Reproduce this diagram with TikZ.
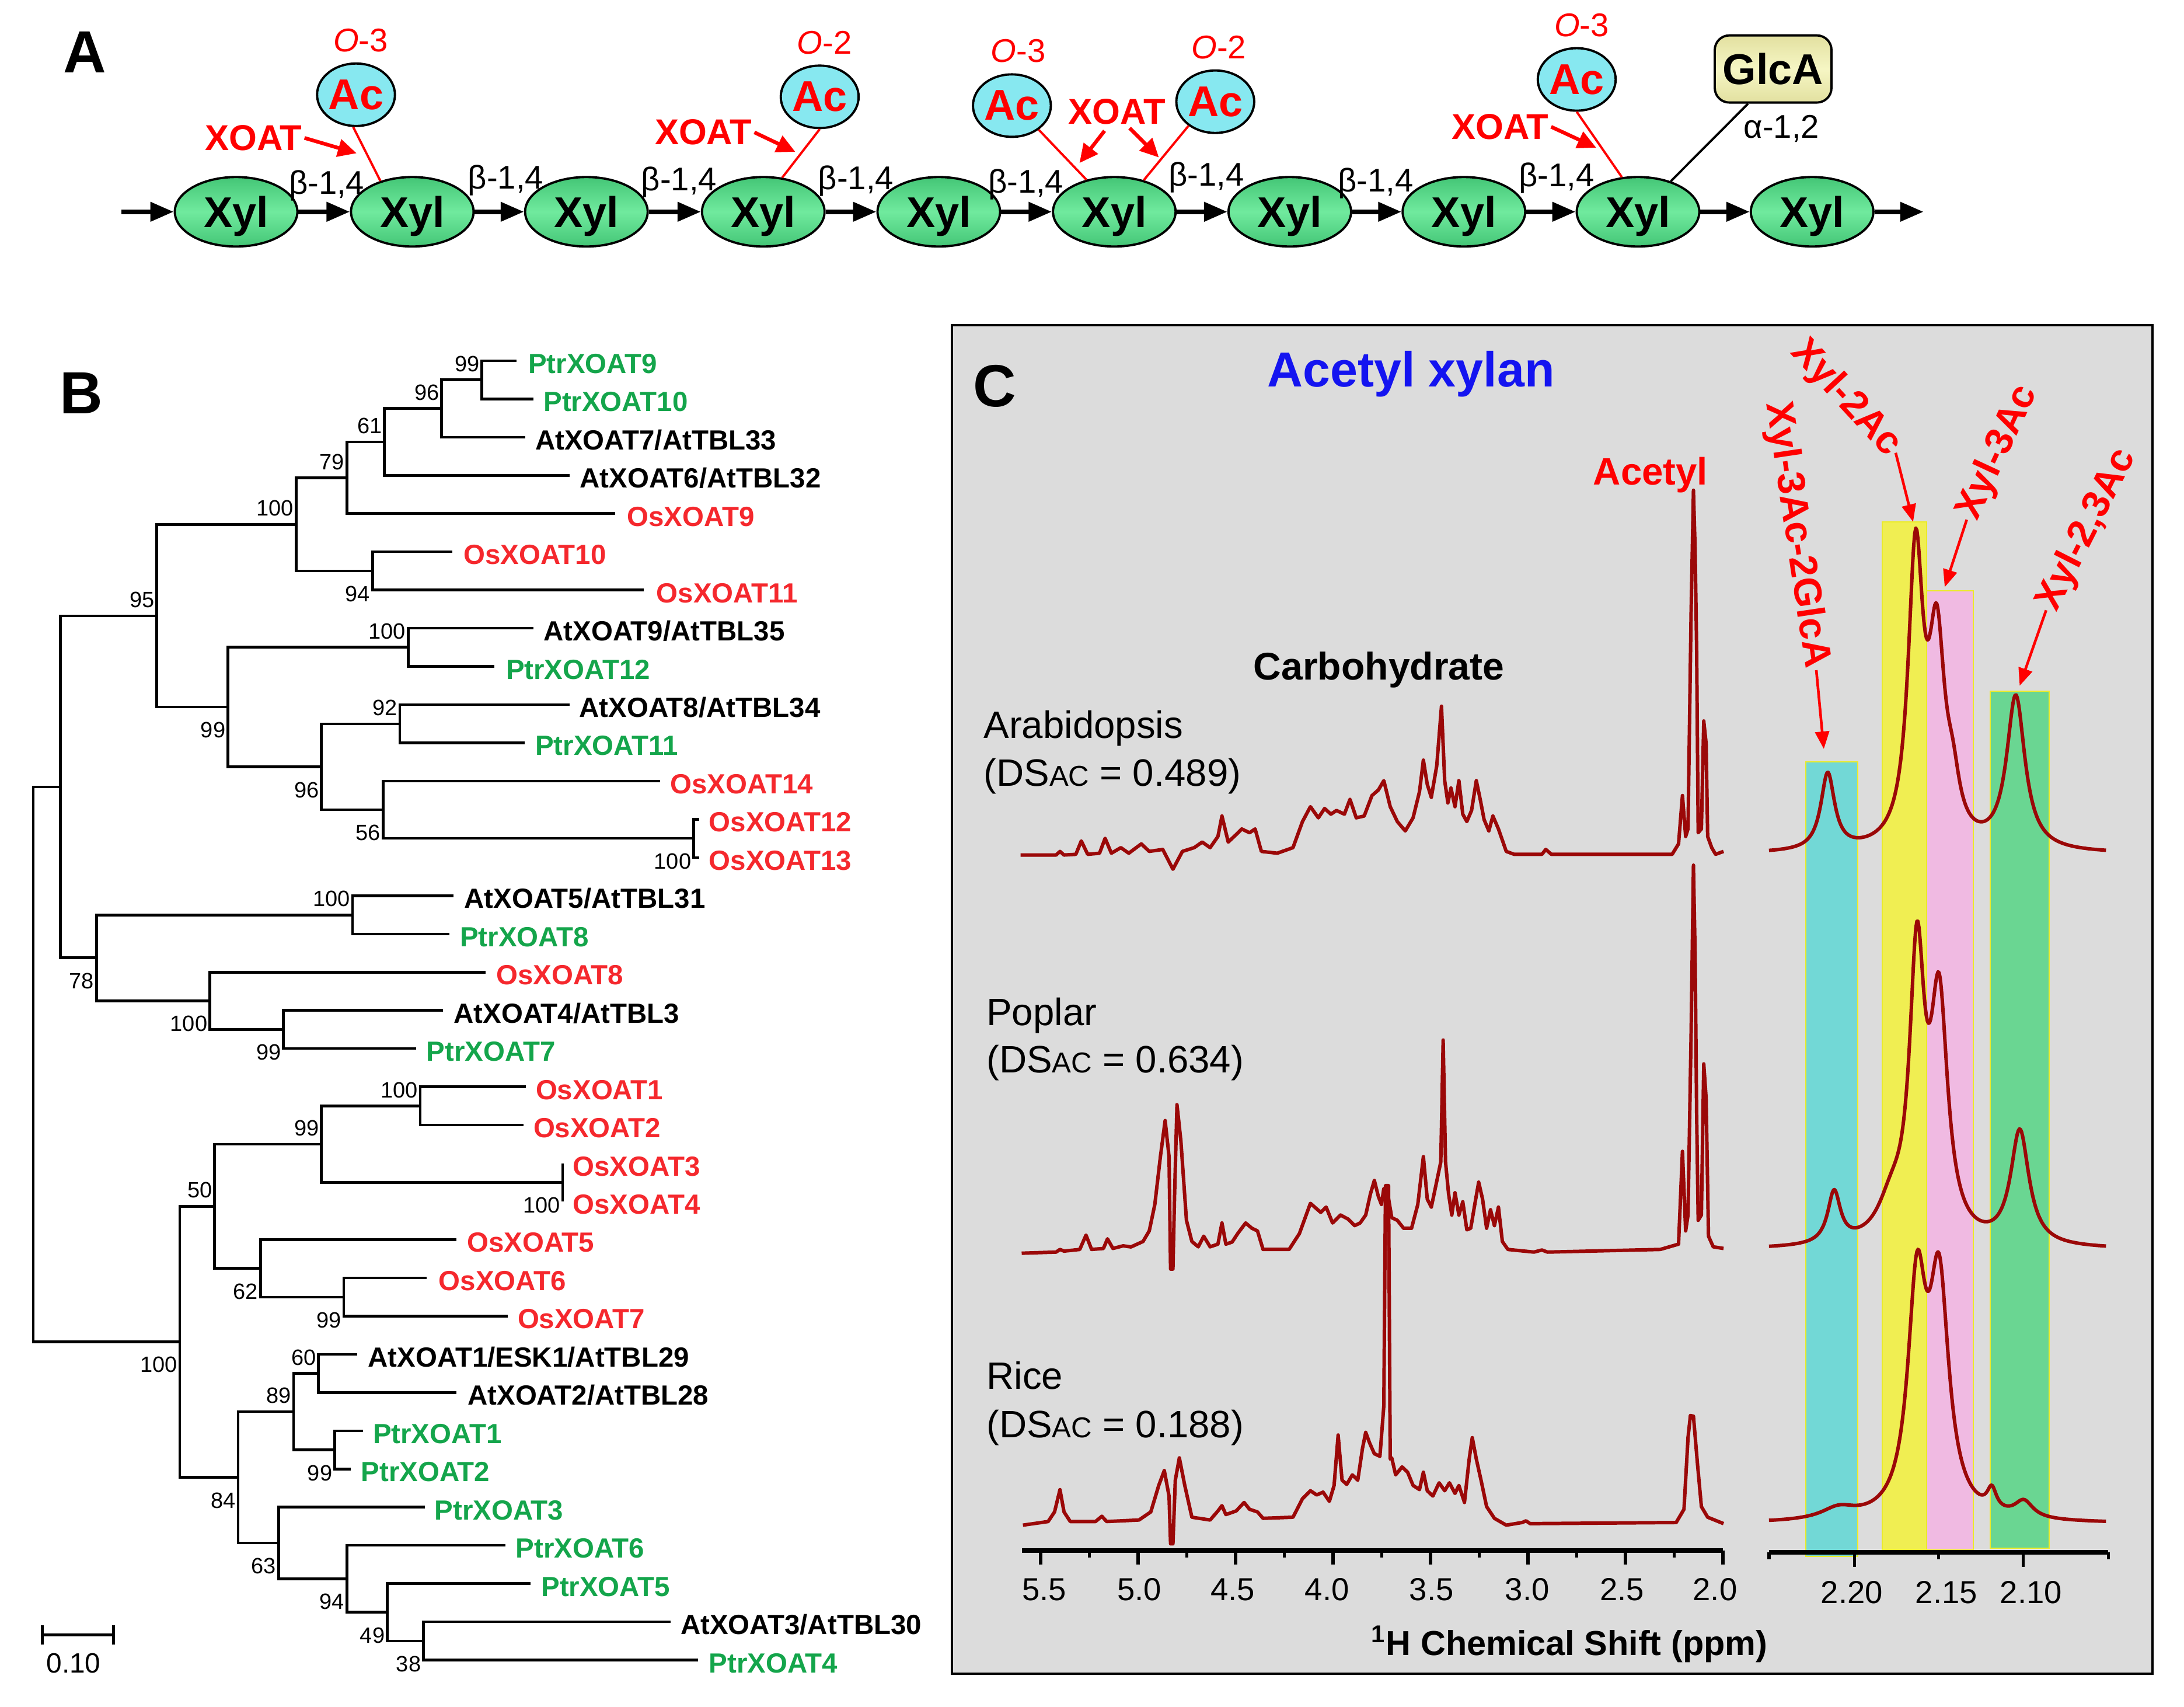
\documentclass[tikz,border=0pt]{standalone}
\usepackage{fontspec}
\setmainfont{Liberation Sans}
\usetikzlibrary{shapes.geometric,arrows.meta,calc}
\newcommand\fsz[1]{\fontsize{#1}{#1}\selectfont}
\newcommand\dsac[1]{(DS{\fsz{14}AC} = #1)}
\definecolor{xylD}{RGB}{68,198,118}
\definecolor{xylL}{RGB}{112,234,158}
\definecolor{acC}{RGB}{135,232,240}
\definecolor{glD}{RGB}{226,224,160}
\definecolor{glL}{RGB}{246,246,196}
\definecolor{redA}{RGB}{255,0,0}
\definecolor{treeR}{RGB}{245,40,45}
\definecolor{treeG}{RGB}{20,165,75}
\definecolor{blueT}{RGB}{20,20,240}
\definecolor{bgC}{RGB}{220,220,220}
\definecolor{specC}{RGB}{155,8,8}
\definecolor{bandCy}{RGB}{114,216,214}
\definecolor{bandYe}{RGB}{240,238,82}
\definecolor{bandPi}{RGB}{240,186,226}
\definecolor{bandGr}{RGB}{106,214,146}
\definecolor{bandEdge}{RGB}{235,235,40}
\begin{document}
\begin{tikzpicture}[x=0.023865cm,y=-0.023865cm,
  xyl/.style={ellipse, draw=black, line width=1.1pt, minimum width=21mm, minimum height=11.9mm, inner sep=0pt, text depth=0pt, top color=xylD, bottom color=xylD, middle color=xylL, font=\bfseries\fsz{21}},
  ac/.style={ellipse, draw=black, line width=1.1pt, minimum width=11.9mm, minimum height=10.7mm, inner sep=0pt, fill=acC, text=redA, font=\bfseries\fsz{21}},
  glca/.style={rectangle, rounded corners=2.5mm, draw=black, line width=1.1pt, minimum width=20mm, minimum height=11.5mm, top color=glD, bottom color=glD, middle color=glL, font=\bfseries\fsz{21}},
  betalab/.style={font=\fsz{16}, inner sep=0pt, anchor=base},
  olab/.style={font=\fsz{16}, text=redA, inner sep=0pt},
  xoat/.style={font=\bfseries\fsz{17.5}, text=redA, inner sep=1pt},
  chain/.style={line width=2.3pt, -{Triangle[length=4mm,width=3.2mm]}},
  redarr/.style={redA, line width=1.8pt, -{Triangle[length=3.2mm,width=3mm]}},
  acline/.style={redA, line width=1.1pt},
  blkline/.style={black, line width=1.1pt},
  panlab/.style={font=\bfseries\fsz{29}, inner sep=0pt},
  tree/.style={line width=1.3pt},
  leaf/.style={font=\bfseries\fsz{13.5}, inner sep=0pt, anchor=base west},
  bs/.style={font=\fsz{10.8}, inner sep=0pt, anchor=base east},
  spec/.style={specC, line width=1.7pt, line join=round},
  ann/.style={font=\bfseries\fsz{19}, text=redA, inner sep=1pt},
  annarr/.style={redA, line width=1.3pt, -{Triangle[length=3mm,width=2.4mm]}},
  axisl/.style={line width=2.2pt},
  tickl/.style={line width=1.5pt},
  ticklab/.style={font=\fsz{15.5}, inner sep=0pt, anchor=base},
  samp/.style={font=\fsz{18.6}, inner sep=0pt, anchor=base west}
]
\useasboundingbox (0,0) rectangle (1568,1225);
\fill[white] (0,0) rectangle (1568,1225);

% ================= Panel A =================
\node[panlab] (labA) at (61,37.4) {A};
\node[xyl] (x1) at (169.5,152) {Xyl};
\node[xyl] (x2) at (296,152) {Xyl};
\node[xyl] (x3) at (421,152) {Xyl};
\node[xyl] (x4) at (548,152) {Xyl};
\node[xyl] (x5) at (674,152) {Xyl};
\node[xyl] (x6) at (800,152) {Xyl};
\node[xyl] (x7) at (926,152) {Xyl};
\node[xyl] (x8) at (1051,152) {Xyl};
\node[xyl] (x9) at (1176,152) {Xyl};
\node[xyl] (x10) at (1301,152) {Xyl};
\coordinate (c0) at (87,152);
\coordinate (c11) at (1381,152);
\draw[chain] (c0) -- (x1);
\draw[chain] (x1) -- (x2);
\draw[chain] (x2) -- (x3);
\draw[chain] (x3) -- (x4);
\draw[chain] (x4) -- (x5);
\draw[chain] (x5) -- (x6);
\draw[chain] (x6) -- (x7);
\draw[chain] (x7) -- (x8);
\draw[chain] (x8) -- (x9);
\draw[chain] (x9) -- (x10);
\draw[chain] (x10) -- (c11);
\node[betalab] (be1) at (234.5,139.5) {β-1,4};
\node[betalab] (be2) at (363,135.5) {β-1,4};
\node[betalab] (be3) at (487.5,137) {β-1,4};
\node[betalab] (be4) at (614.5,136) {β-1,4};
\node[betalab] (be5) at (736.5,138.6) {β-1,4};
\node[betalab] (be6) at (866,133.3) {β-1,4};
\node[betalab] (be7) at (987.6,137.5) {β-1,4};
\node[betalab] (be8) at (1117.5,134) {β-1,4};

\node[ac] (ac1) at (255.6,68) {Ac};
\node[ac] (ac2) at (588.5,69.5) {Ac};
\node[ac] (ac3) at (726.5,75.8) {Ac};
\node[ac] (ac4) at (872.5,73) {Ac};
\node[ac] (ac5) at (1132,57) {Ac};
\node[olab] (o1) at (259,29) {\textit{O}-3};
\node[olab] (o2) at (592,30.7) {\textit{O}-2};
\node[olab] (o3) at (731,36.7) {\textit{O}-3};
\node[olab] (o4) at (875,33.9) {\textit{O}-2};
\node[olab] (o5) at (1135.5,18) {\textit{O}-3};
\draw[acline] (ac1.265) -- (x2.136);
\draw[acline] (ac2.south) -- (x4.61);
\draw[acline] (ac3.-42) -- (x6.131);
\draw[acline] (ac4.-138) -- (x6.47);
\draw[acline] (ac5.south) -- (x9.115);
\node[glca] (glca) at (1273,49.5) {GlcA};
\draw[blkline] ($(glca.south)+(-18,0)$) -- (x9.43);
\node[betalab] (alpha) at (1279,99) {α-1,2};

\node[xoat] (xo1) at (182,99) {XOAT};
\node[xoat] (xo2) at (505,95) {XOAT};
\node[xoat] (xo3) at (802,80) {XOAT};
\node[xoat] (xo4) at (1077,91) {XOAT};
\coordinate (h1) at (256,110);
\coordinate (h2) at (571,109);
\coordinate (h3a) at (775,117);
\coordinate (h3b) at (832,113);
\coordinate (h4) at (1146,106);
\draw[redarr] (xo1.east) -- (h1);
\draw[redarr] (xo2.east) -- (h2);
\draw[redarr] ($(xo3.south)+(-9,3)$) -- (h3a);
\draw[redarr] ($(xo3.south)+(9,1)$) -- (h3b);
\draw[redarr] (xo4.east) -- (h4);

% ================= Panel B =================
\node[panlab] (labB) at (58.5,282) {B};
\foreach \i/\tx/\lx/\col/\txt in {
 0/371/379/treeG/PtrXOAT9, 1/383/390/treeG/PtrXOAT10, 2/377/384/black/{AtXOAT7/AtTBL33},
 3/409/416/black/{AtXOAT6/AtTBL32}, 4/441.6/450/treeR/OsXOAT9, 5/324.7/332.5/treeR/OsXOAT10,
 6/462/471/treeR/OsXOAT11, 7/383/390/black/{AtXOAT9/AtTBL35}, 8/355/363/treeG/PtrXOAT12,
 9/409/415.6/black/{AtXOAT8/AtTBL34}, 10/376.6/384/treeG/PtrXOAT11, 11/474/481/treeR/OsXOAT14,
 12/502/508.7/treeR/OsXOAT12, 13/502/508.7/treeR/OsXOAT13, 14/325.5/333/black/{AtXOAT5/AtTBL31},
 15/322.5/330/treeG/PtrXOAT8, 16/348.5/356/treeR/OsXOAT8, 17/318/325.5/black/{AtXOAT4/AtTBL3},
 18/298.7/306/treeG/PtrXOAT7, 19/377.5/384.4/treeR/OsXOAT1, 20/375.7/382.7/treeR/OsXOAT2,
 21/404/411/treeR/OsXOAT3, 22/404/411/treeR/OsXOAT4, 23/327.7/335/treeR/OsXOAT5,
 24/306.5/314.7/treeR/OsXOAT6, 25/364.5/371.4/treeR/OsXOAT7, 26/256.3/264/black/{AtXOAT1/ESK1/AtTBL29},
 27/327.7/335.5/black/{AtXOAT2/AtTBL28}, 28/260.6/267.5/treeG/PtrXOAT1, 29/252/258.9/treeG/PtrXOAT2,
 30/305/311.7/treeG/PtrXOAT3, 31/362.8/370/treeG/PtrXOAT6, 32/381/388.3/treeG/PtrXOAT5,
 33/481.4/488.3/black/{AtXOAT3/AtTBL30}, 34/501.3/508.7/treeG/PtrXOAT4}{
  \pgfmathsetmacro\yy{258.9+27.43*\i}
  \coordinate (t\i) at (\tx,\yy);
  \node[leaf,text=\col] (l\i) at (\lx,\yy+9) {\txt};
}
\coordinate (a99) at (346,272.6);
\coordinate (a96) at (317,293.2);
\coordinate (a61) at (276,317.2);
\coordinate (a79) at (249,342.9);
\coordinate (a94) at (267.5,409.8);
\coordinate (a100) at (212.6,376.4);
\coordinate (b100) at (293,464.6);
\coordinate (b92) at (287,519.5);
\coordinate (b100c) at (498,601.8);
\coordinate (b56) at (275,581.2);
\coordinate (b96) at (230.7,550.4);
\coordinate (b99) at (163.6,507.5);
\coordinate (c95) at (112.6,442);
\coordinate (d100) at (253,656.7);
\coordinate (d99) at (203.5,738.9);
\coordinate (d100b) at (150.6,718.4);
\coordinate (d78) at (69.3,687.5);
\coordinate (e) at (43.3,564.8);
\coordinate (f100) at (301.7,793.8);
\coordinate (f100b) at (404,848.7);
\coordinate (f99) at (230.7,821.2);
\coordinate (f99b) at (246.8,931);
\coordinate (f62) at (187,910.4);
\coordinate (f50) at (154,865.8);
\coordinate (g60) at (228.6,985.8);
\coordinate (g99) at (240.3,1040.7);
\coordinate (g89) at (210.8,1013.2);
\coordinate (g38) at (304,1177.8);
\coordinate (g49) at (278,1157.2);
\coordinate (g94) at (249,1133.2);
\coordinate (g63) at (200,1107.5);
\coordinate (g84) at (171,1060.4);
\coordinate (f100c) at (129,963.1);
\coordinate (root) at (23.8,764);
\foreach \p/\c in {a99/t0,a99/t1,a96/a99,a96/t2,a61/a96,a61/t3,a79/a61,a79/t4,a94/t5,a94/t6,
 a100/a79,a100/a94,b100/t7,b100/t8,b92/t9,b92/t10,b100c/t12,b100c/t13,b56/t11,b56/b100c,
 b96/b92,b96/b56,b99/b100,b99/b96,c95/a100,c95/b99,d100/t14,d100/t15,d99/t17,d99/t18,
 d100b/t16,d100b/d99,d78/d100,d78/d100b,e/c95,e/d78,f100/t19,f100/t20,f100b/t21,f100b/t22,
 f99/f100,f99/f100b,f99b/t24,f99b/t25,f62/t23,f62/f99b,f50/f99,f50/f62,g60/t26,g60/t27,
 g99/t28,g99/t29,g89/g60,g89/g99,g38/t33,g38/t34,g49/t32,g49/g38,g94/t31,g94/g49,
 g63/t30,g63/g94,g84/g89,g84/g63,f100c/f50,f100c/g84,root/e,root/f100c}{
  \draw[tree] (\p) |- (\c);
}
% bootstrap values: above = upper child, below = lower child
\foreach \n/\v in {a99/99,a96/96,a61/61,a79/79,a100/100,b100/100,b92/92,c95/95,d100/100,
 f100/100,f99/99,f50/50,g60/60,g89/89}{
  \node[bs] (bs\n) at ($(\n)+(-1.5,-6)$) {\v};
}
\foreach \n/\v in {a94/94,b100c/100,b56/56,b96/96,b99/99,d99/99,d100b/100,d78/78,f100b/100,
 f99b/99,f62/62,g99/99,g38/38,g49/49,g94/94,g63/63,g84/84,f100c/100}{
  \node[bs] (bs\n) at ($(\n)+(-1.5,22)$) {\v};
}
\coordinate (sb1) at (30.3,1173.5);
\coordinate (sb2) at (81.4,1173.5);
\draw[line width=1.3pt] (sb1) -- (sb2);
\draw[line width=1.3pt] ($(sb1)+(0,-7)$) -- ($(sb1)+(0,7)$);
\draw[line width=1.3pt] ($(sb2)+(0,-7)$) -- ($(sb2)+(0,7)$);
\node[font=\fsz{13.6}, inner sep=0pt] (sbl) at (52.8,1193.7) {0.10};

% ================= Panel C =================
\draw[fill=bgC, line width=1.2pt] (683.3,233.5) rectangle (1545.4,1201.3);
\node[panlab] (labC) at (714,277) {C};
\node[font=\bfseries\fsz{24}, text=blueT, inner sep=0pt, anchor=base] (title) at (1013,277.6) {Acetyl xylan};
\node[font=\bfseries\fsz{18.6}, text=redA, inner sep=0pt, anchor=base] (acetyl) at (1185,348) {Acetyl};
\node[font=\bfseries\fsz{18.8}, inner sep=0pt, anchor=base] (carbo) at (990,488) {Carbohydrate};
\node[samp] (s1a) at (706,530) {Arabidopsis};
\node[samp] (s1b) at (706,564.3) {\dsac{0.489}};
\node[samp] (s2a) at (708,735.9) {Poplar};
\node[samp] (s2b) at (708,770.1) {\dsac{0.634}};
\node[samp] (s3a) at (708,997) {Rice};
\node[samp] (s3b) at (708,1032) {\dsac{0.188}};

% bands
\fill[bandCy, draw=bandEdge, line width=0.6pt] (1296.4,546.9) rectangle (1333.8,1117);
\fill[bandYe, draw=bandEdge, line width=0.6pt] (1351.5,374.6) rectangle (1383.3,1112.5);
\fill[bandPi, draw=bandEdge, line width=0.6pt] (1383.3,424) rectangle (1416.9,1112.5);
\fill[bandGr, draw=bandEdge, line width=0.6pt] (1428.8,496.1) rectangle (1471.3,1111.1);

% left spectra
\draw[spec] (732.7,613.7) -- (758.2,613.7) -- (761,611.1) -- (763.9,613.7) -- (772.4,613.2) -- (776.3,603.6) -- (780.9,613.2) -- (789.4,612.4) -- (793.4,601.7) -- (797.9,612.4) -- (804.7,608.4) -- (810.4,612.4) -- (819.4,605.7) -- (825.1,611.1) -- (834.8,609.7) -- (842.1,623.9) -- (848.9,611.1) -- (857.4,608.4) -- (863.1,604.4) -- (868.8,608.4) -- (874.4,600.4) -- (877.3,585.7) -- (881.8,604.4) -- (887.5,599) -- (891.5,595) -- (897.1,597.7) -- (901.1,595) -- (905.6,611.1) -- (917,612.4) -- (928.3,608.4) -- (935.1,589.7) -- (940.8,579) -- (946.5,587) -- (951,580.3) -- (955.5,584.4) -- (959.5,581.7) -- (965.2,584.4) -- (969.2,573.7) -- (973.7,587) -- (979.4,585.7) -- (985,571) -- (989.6,567) -- (993.5,560.3) -- (998.1,579) -- (1003.2,589.7) -- (1008.9,596.4) -- (1014.5,587) -- (1019.1,568.3) -- (1021.9,545.6) -- (1024.7,563) -- (1027.6,572.3) -- (1031.5,549.6) -- (1034.9,506.9) -- (1037.2,560.3) -- (1039.5,576.3) -- (1041.7,565.6) -- (1044.6,579) -- (1047.4,560.3) -- (1050.2,584.4) -- (1053.1,589.7) -- (1056.5,581.7) -- (1059.9,560.3) -- (1062.7,573.7) -- (1065.5,588.3) -- (1068.9,596.4) -- (1071.8,585.7) -- (1075.8,595) -- (1081.4,611.1) -- (1087.1,613.2) -- (1107,613.2) -- (1109.8,609.7) -- (1113.8,613.2) -- (1200.5,613.2) -- (1205.1,605.7) -- (1207.9,571) -- (1210.2,600.4) -- (1211.9,595) -- (1214.1,440.1) -- (1215.8,351.9) -- (1217,394.6) -- (1218.1,466.8) -- (1219.2,597.7) -- (1221.5,595) -- (1223.2,517.5) -- (1224.9,533.6) -- (1226,600.4) -- (1228.9,608.4) -- (1231.7,613.2) -- (1237.4,611.1);

\draw[spec] (733.5,899.5) -- (758.2,898.7) -- (761,896.8) -- (763.9,898) -- (775.2,896.8) -- (779.7,886.5) -- (783.7,896.8) -- (792.2,896.1) -- (795.1,889.2) -- (799,896.1) -- (806.4,894.2) -- (812,895) -- (820.6,891.1) -- (825.1,883.5) -- (829.1,864.5) -- (833.1,830.2) -- (836.5,804.3) -- (839.3,830.2) -- (840.4,910.9) -- (842.1,910.9) -- (843.3,856.9) -- (845,792.9) -- (847.8,818.8) -- (851.8,875.9) -- (855.7,891.1) -- (860.3,894.9) -- (864.2,887.3) -- (868.8,894.9) -- (874.4,893) -- (877.3,877.8) -- (880.1,893) -- (884.6,891.5) -- (888.6,885.4) -- (894.3,877.8) -- (898.8,881.6) -- (902.8,883.5) -- (906.8,896.8) -- (925.5,896.8) -- (932.9,885.4) -- (940.8,863.7) -- (948.2,870.2) -- (952.1,866.4) -- (956.7,877.8) -- (962.4,872.1) -- (968,875.1) -- (972.6,879.7) -- (976.5,877.8) -- (980.5,872.1) -- (983.9,856.9) -- (986.7,847.3) -- (989.6,858.8) -- (991.8,864.5) -- (993.5,853.1) -- (996,855) -- (999.2,874) -- (1003.2,875.9) -- (1007.7,881.6) -- (1013.4,881.6) -- (1017.9,864.5) -- (1021.9,830.2) -- (1024.7,860.7) -- (1027.6,866.4) -- (1030.4,853.1) -- (1034.4,834) -- (1036.1,746.5) -- (1037.8,834) -- (1040,856.9) -- (1042.3,872.1) -- (1044.6,856.1) -- (1047.4,872.1) -- (1050.2,862.6) -- (1053.1,882.7) -- (1055.9,881.6) -- (1058.8,864.5) -- (1061.6,848.5) -- (1064.4,860.7) -- (1067.3,881.6) -- (1070.1,868.3) -- (1072.9,879.7) -- (1075.8,866.4) -- (1078.6,891.1) -- (1082.6,896.8) -- (1101.3,898.7) -- (1107,897.2) -- (1111,898.7) -- (1192,896.8) -- (1205.1,893) -- (1207.9,826.4) -- (1210.2,883.5) -- (1211.9,872.1) -- (1214.1,742.7) -- (1215.8,621) -- (1217,685.6) -- (1218.1,800) -- (1219.2,875.9) -- (1221.5,872.1) -- (1223.2,763.6) -- (1224.9,788.4) -- (1226.6,887.3) -- (1230,894.9) -- (1237.4,896.1);

\draw[spec] (734.4,1094.7) -- (752.5,1092.1) -- (757.1,1085.2) -- (761,1069.2) -- (763.9,1085.2) -- (768.4,1092.1) -- (786.5,1092.1) -- (791.1,1088.3) -- (794.5,1092.1) -- (817.7,1091) -- (826.2,1085.2) -- (831.9,1066.2) -- (835.9,1055.5) -- (839.3,1073.8) -- (840.4,1108.1) -- (842.1,1108.1) -- (843.8,1062.4) -- (846.7,1046.4) -- (850.6,1066.2) -- (855.7,1089) -- (868.8,1091) -- (874.4,1084.5) -- (877.3,1080.7) -- (880.1,1087.1) -- (887.5,1084.5) -- (893.2,1078.4) -- (897.1,1083.3) -- (902.8,1085.2) -- (906.8,1089.8) -- (928.3,1089) -- (935.1,1075.7) -- (940.8,1070) -- (945.3,1073) -- (949.9,1071) -- (954.4,1077.6) -- (957.8,1066.2) -- (960.7,1030) -- (963.5,1062.4) -- (966.9,1065.4) -- (970.9,1058.6) -- (974.8,1062.4) -- (978.2,1039.5) -- (980.5,1028.1) -- (983.3,1035.7) -- (986.7,1043.4) -- (990.7,1045.3) -- (993.5,1009.1) -- (994.7,851) -- (996.9,851) -- (998.1,1047.2) -- (999.2,1046.5) -- (1002,1058.6) -- (1006.6,1052.9) -- (1010.6,1056.7) -- (1014.5,1066.2) -- (1019.1,1069.2) -- (1021.9,1056.7) -- (1024.7,1070) -- (1028.7,1073.8) -- (1033.2,1064.3) -- (1037.2,1070) -- (1040.6,1064.3) -- (1044.6,1071.9) -- (1047.4,1066.2) -- (1051.4,1078.4) -- (1054.8,1047.2) -- (1057,1031.9) -- (1059.9,1047.2) -- (1063.3,1062.4) -- (1067.3,1081.4) -- (1072.9,1089.8) -- (1081.4,1094.7) -- (1092.8,1092.8) -- (1095.6,1091.6) -- (1098.5,1093.6) -- (1203.4,1092.8) -- (1209,1083.3) -- (1211.9,1031.9) -- (1213.6,1016) -- (1215.8,1016.5) -- (1218.7,1050.9) -- (1221.5,1081.4) -- (1226,1089) -- (1237.4,1093.6);

% right spectra (Lorentzian sums)
\draw[spec] plot[domain=1270:1512, samples=320] (\x, {613 - 55/(1+((\x-1312.2)/6)^2) - 206/(1+((\x-1375.3)/6.5)^2) - 139/(1+((\x-1390.5)/7)^2) - 30/(1+((\x-1402)/6)^2) - 110/(1+((\x-1447.2)/8)^2)});
\draw[spec] plot[domain=1270:1512, samples=320] (\x, {897 - 37/(1+((\x-1316.8)/5.5)^2) - 25/(1+((\x-1358)/12)^2) - 197/(1+((\x-1376.3)/6.5)^2) - 166/(1+((\x-1392.2)/7.5)^2) - 82/(1+((\x-1450.1)/8)^2)});
\draw[spec] plot[domain=1270:1512, samples=320] (\x, {1093.6 - 8/(1+((\x-1320)/15)^2) - 159/(1+((\x-1376.3)/8)^2) - 161/(1+((\x-1392.2)/8.5)^2) - 15/(1+((\x-1430)/4)^2) - 12/(1+((\x-1453)/8)^2)});

% axes
\draw[axisl] (733.9,1113) -- (1237,1113);
\foreach \k in {0,...,14}{
  \pgfmathsetmacro\tx{747.1+34.99*\k}
  \pgfmathtruncatemacro\ev{mod(\k,2)}
  \ifnum\ev=0 \draw[tickl] (\tx,1113) -- (\tx,1123); \else \draw[tickl] (\tx,1113) -- (\tx,1118); \fi
}
\foreach \lx/\lt in {749.8/5.5,818/5.0,885/4.5,952.7/4.0,1027.8/3.5,1096.5/3.0,1164.5/2.5,1231.3/2.0}{
  \node[ticklab] at (\lx,1148.8) {\lt};
}
\draw[axisl] (1270,1114.2) -- (1513.7,1114.2);
\draw[tickl] (1270,1114.2) -- (1270,1119);
\draw[tickl] (1513.7,1114.2) -- (1513.7,1119);
\draw[tickl] (1391.8,1114.2) -- (1391.8,1119);
\draw[tickl] (1331.3,1114.2) -- (1331.3,1124.5);
\draw[tickl] (1452.5,1114.2) -- (1452.5,1124.5);
\node[ticklab] (r1) at (1329.5,1151) {2.20};
\node[ticklab] (r2) at (1397.4,1151) {2.15};
\node[ticklab] (r3) at (1458.2,1151) {2.10};
\node[font=\bfseries\fsz{16.9}, inner sep=0pt, anchor=base] (xlab) at (1126.8,1188) {\textsuperscript{1}H Chemical Shift (ppm)};

% annotations
\node[ann, rotate=-81.5, anchor=east] (n1) at (1304,481) {Xyl-3Ac-2GlcA};
\node[ann, rotate=-47.3, anchor=east] (n2) at (1361,325) {Xyl-2Ac};
\node[ann, rotate=65.1, anchor=west] (n3) at (1412,373) {Xyl-3Ac};
\node[ann, rotate=63.1, anchor=west] (n4) at (1469,438) {Xyl-2,3Ac};
\coordinate (p1) at (1309.4,537.6);
\coordinate (p2) at (1373.5,374.6);
\coordinate (p3) at (1396.2,421.4);
\coordinate (p4) at (1450,492.2);
\draw[annarr] (n1.east) -- (p1);
\draw[annarr] (n2.east) -- (p2);
\draw[annarr] (n3.west) -- (p3);
\draw[annarr] (n4.west) -- (p4);
\end{tikzpicture}
\end{document}
